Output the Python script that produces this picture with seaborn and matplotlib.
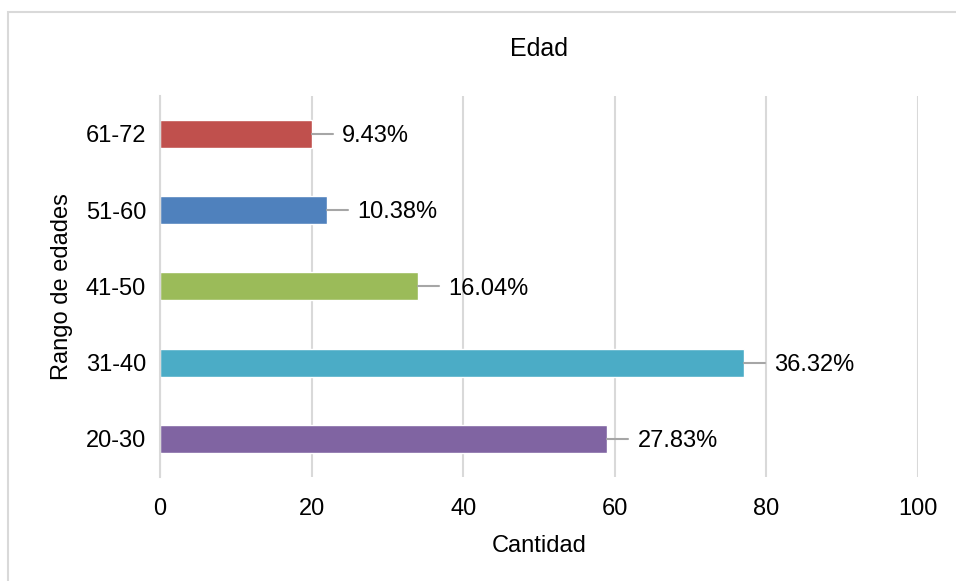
import matplotlib
matplotlib.use("Agg")
import matplotlib.pyplot as plt
import seaborn as sns
import pandas as pd
from matplotlib.patches import Rectangle

# datos
rangos = ["61-72", "51-60", "41-50", "31-40", "20-30"]
cantidad = [20, 22, 34, 77, 59]
porcentajes = ["9.43%", "10.38%", "16.04%", "36.32%", "27.83%"]
colores = ["#C0504D", "#4F81BD", "#9BBB59", "#4BACC6", "#8064A2"]
x_ticks = [0, 20, 40, 60, 80, 100]

df = pd.DataFrame({"Rango": rangos, "Cantidad": cantidad})

sns.set_style("white")
plt.rcParams["font.family"] = ["Liberation Sans", "DejaVu Sans"]
plt.rcParams["text.color"] = "black"
plt.rcParams["axes.labelcolor"] = "black"
plt.rcParams["xtick.color"] = "black"
plt.rcParams["ytick.color"] = "black"

fig = plt.figure(figsize=(9.56, 5.81), dpi=100)
ax = fig.add_axes([0.1674, 0.179, 0.7929, 0.656])

sns.barplot(data=df, x="Cantidad", y="Rango", hue="Rango", palette=colores,
            order=rangos, orient="h", width=0.366, legend=False, ax=ax,
            saturation=1)

# lineas guia + etiquetas de porcentaje
for i, (v, p) in enumerate(zip(cantidad, porcentajes)):
    ax.plot([v, v + 2.8], [i, i], color="#A6A6A6", lw=1.5, zorder=3)
    ax.text(v + 4.0, i + 0.03, p, va="center", ha="left", fontsize=17, color="black")

ax.set_xlim(0, 100)
ax.set_ylim(len(rangos) - 0.5, -0.5)
ax.set_xticks(x_ticks)
ax.set_xticklabels([str(t) for t in x_ticks], fontsize=17)
ax.tick_params(axis="y", labelsize=17, length=0, pad=10)
ax.tick_params(axis="x", length=0, pad=15)
ax.grid(axis="x", color="#D9D9D9", lw=1.5)
ax.set_axisbelow(True)
for s in ["top", "right", "bottom"]:
    ax.spines[s].set_visible(False)
ax.spines["left"].set_color("#D9D9D9")
ax.spines["left"].set_linewidth(1.5)

ax.set_xlabel("Cantidad", fontsize=17, labelpad=11)
ax.set_ylabel("Rango de edades", fontsize=17, labelpad=9)
ax.set_title("Edad", fontsize=18, pad=29)

# marco del area del grafico
fig.patches.append(Rectangle((8 / 956, -0.01), 1.0, 1 - 12 / 581 + 0.01,
                             transform=fig.transFigure, fill=False,
                             edgecolor="#D9D9D9", lw=1.5))

fig.savefig("out.png", dpi=100)
